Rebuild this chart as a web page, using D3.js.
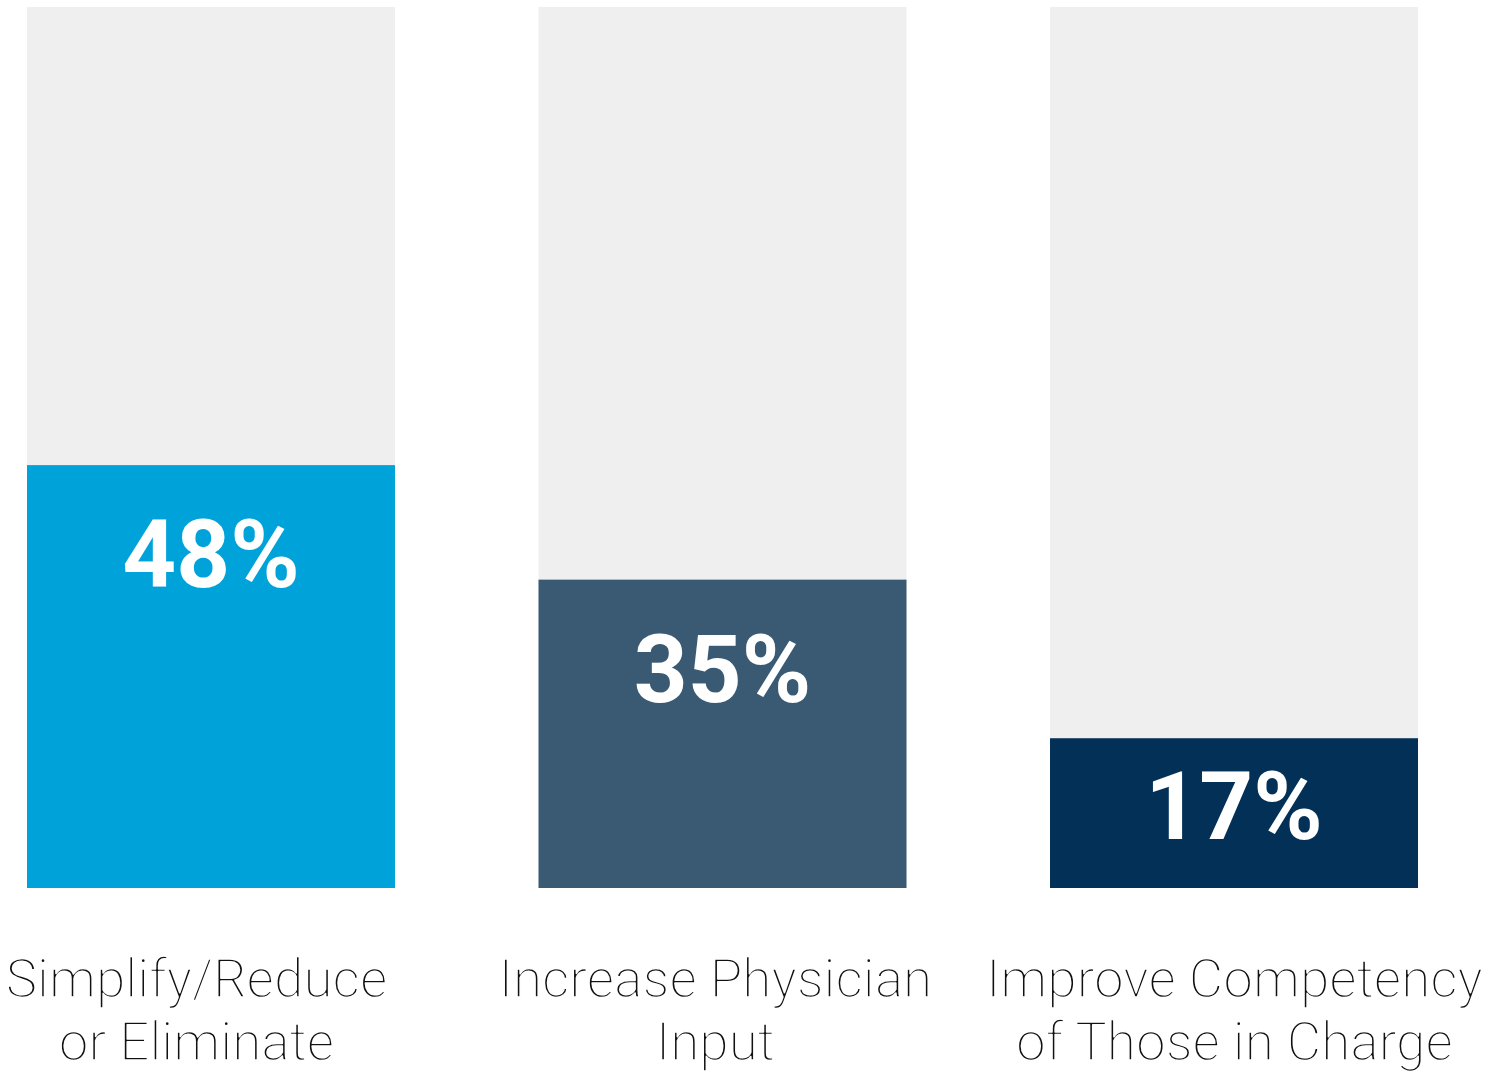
<!DOCTYPE html>
<html>
<head>
<meta charset="utf-8">
<script src="https://cdn.jsdelivr.net/npm/d3@7"></script>
<style>
  html, body { margin: 0; padding: 0; background: #ffffff; }
  svg { display: block; }
</style>
</head>
<body>
<svg id="chart" width="1501" height="1072"></svg>
<script>
// Share of respondents choosing each approach
const categories = ["Simplify/Reduce or Eliminate", "Increase Physician Input", "Improve Competency of Those in Charge"];
const labelLines = [["Simplify/Reduce", "or Eliminate"], ["Increase Physician", "Input"], ["Improve Competency", "of Those in Charge"]];
const values = [48, 35, 17];
const colors = ["#00a3d9", "#3a5a73", "#023057"];

const svg = d3.select("#chart");

const x = d3.scaleBand()
  .domain(categories)
  .range([27, 1418])
  .paddingInner(0.2806)
  .paddingOuter(0);

// Category captions sit on a slightly wider, evenly spaced grid
const xLabel = d3.scaleBand()
  .domain(categories)
  .range([-63, 1494])
  .padding(0);

const y = d3.scaleLinear().domain([0, 100]).range([888, 7]);

const data = categories.map((c, i) => ({ cat: c, value: values[i], color: colors[i], lines: labelLines[i] }));

// Full-height track behind each bar
svg.append("g").selectAll("rect")
  .data(data)
  .join("rect")
  .attr("x", d => x(d.cat))
  .attr("y", y(100))
  .attr("width", x.bandwidth())
  .attr("height", y(0) - y(100))
  .attr("fill", "#efefef");

// Value bars
svg.append("g").selectAll("rect")
  .data(data)
  .join("rect")
  .attr("x", d => x(d.cat))
  .attr("y", d => y(d.value))
  .attr("width", x.bandwidth())
  .attr("height", d => y(0) - y(d.value))
  .attr("fill", d => d.color);

// Percentage labels inside the bars
svg.append("g").selectAll("text")
  .data(data)
  .join("text")
  .attr("x", d => x(d.cat) + x.bandwidth() / 2)
  .attr("y", d => Math.min(y(d.value) + 122, y(0) - 49))
  .attr("text-anchor", "middle")
  .attr("fill", "#ffffff")
  .style("font-family", "Roboto, sans-serif")
  .style("font-weight", 700)
  .style("font-size", "94px")
  .text(d => d.value + "%");

// Category captions below the bars; a thin white outline painted over the
// fill gives the glyphs a light, fine-stroked look on the white page
const cap = svg.append("g").selectAll("text")
  .data(data)
  .join("text")
  .attr("text-anchor", "middle")
  .attr("fill", "#111111")
  .attr("stroke", "#ffffff")
  .attr("stroke-width", 1.5)
  .attr("stroke-linejoin", "round")
  .style("font-family", "\"Roboto Light\", Roboto, sans-serif")
  .style("font-weight", 300)
  .style("font-size", "53px");

cap.selectAll("tspan")
  .data(d => d.lines.map((t, i) => ({ t, i, cat: d.cat })))
  .join("tspan")
  .attr("x", d => xLabel(d.cat) + xLabel.bandwidth() / 2)
  .attr("y", d => 997 + d.i * 63)
  .text(d => d.t);
</script>
</body>
</html>
